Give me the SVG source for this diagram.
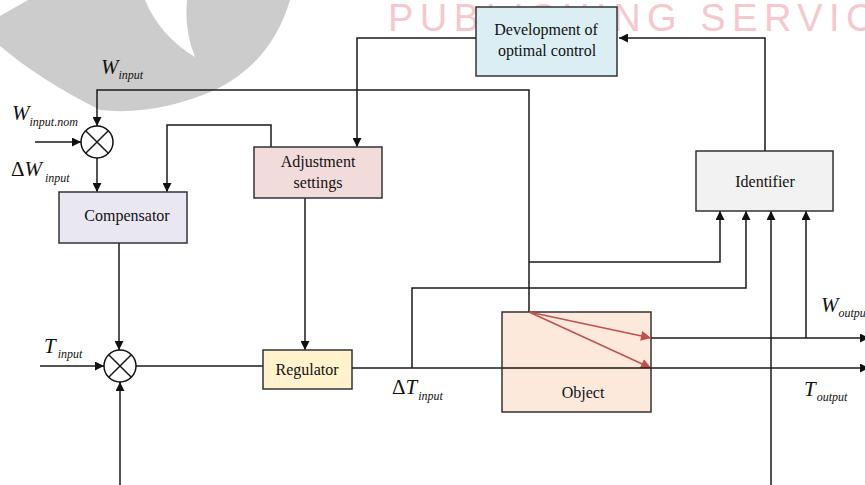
<svg xmlns="http://www.w3.org/2000/svg" width="865" height="485" viewBox="0 0 865 485">
<style>
.ln{fill:none;stroke:#1a1a1a;stroke-width:1.5}
.rd{fill:none;stroke:#c0504d;stroke-width:1.5}
.box{stroke:#333;stroke-width:1.5}
.lbl{font-family:"Liberation Serif","Times New Roman",serif;font-size:16px;fill:#111;text-anchor:middle}
.m{font-family:"Liberation Serif","Times New Roman",serif;font-style:italic;fill:#111}
.big{font-size:21px}
.sub{font-size:12px}
</style>
<defs>
<marker id="ah" viewBox="0 0 10 10" refX="10" refY="5" markerWidth="10" markerHeight="9" markerUnits="userSpaceOnUse" orient="auto"><path d="M0,0 L10,5 L0,10 z" fill="#111"/></marker>
<marker id="ahr" viewBox="0 0 10 10" refX="10" refY="5" markerWidth="14" markerHeight="10" markerUnits="userSpaceOnUse" orient="auto"><path d="M0,0 L10,5 L0,10 z" fill="#c0504d"/></marker>
</defs>
<rect width="865" height="485" fill="#fff"/>
<g id="watermark">
<path d="M28 0 L145 0 Q160 36 195 57 Q184 30 187 0 L290 0 Q272 62 215 90 Q155 116 100 110 Q40 80 0 46 L0 16 Z" fill="#cccccc"/>
<text x="388" y="31" font-family="'Liberation Sans',Arial,sans-serif" font-size="38" letter-spacing="6.5" fill="#f5c8ce">PUBLISHING SERVIC</text>
</g>
<g id="connectors">
<polyline class="ln" points="765,151 765,38 619,38" marker-end="url(#ah)"/>
<polyline class="ln" points="476,38 357,38 357,147" marker-end="url(#ah)"/>
<polyline class="ln" points="271,147 271,125 167,125 167,192" marker-end="url(#ah)"/>
<polyline class="ln" points="529,312 529,90 97,90 97,126" marker-end="url(#ah)"/>
<line class="ln" x1="35" y1="142" x2="81" y2="142" marker-end="url(#ah)"/>
<line class="ln" x1="97" y1="158" x2="97" y2="192" marker-end="url(#ah)"/>
<line class="ln" x1="119" y1="243" x2="119" y2="350" marker-end="url(#ah)"/>
<line class="ln" x1="40" y1="366" x2="104" y2="366" marker-end="url(#ah)"/>
<line class="ln" x1="120" y1="485" x2="120" y2="382" marker-end="url(#ah)"/>
<line class="ln" x1="136" y1="366" x2="263" y2="366"/>
<line class="ln" x1="305" y1="198" x2="305" y2="350" marker-end="url(#ah)"/>
<line class="ln" x1="352" y1="368" x2="869" y2="368" marker-end="url(#ah)"/>
<line class="ln" x1="651" y1="338" x2="869" y2="338" marker-end="url(#ah)"/>
<polyline class="ln" points="529,262 720,262 720,211" marker-end="url(#ah)"/>
<polyline class="ln" points="412,368 412,288 746,288 746,211" marker-end="url(#ah)"/>
<line class="ln" x1="771" y1="485" x2="771" y2="211" marker-end="url(#ah)"/>
<line class="ln" x1="806" y1="338" x2="806" y2="211" marker-end="url(#ah)"/>
</g>
<g id="development">
<rect class="box" x="476" y="7" width="141" height="69" fill="#dbeef4"/>
<text class="lbl" x="546" y="35">Development of</text>
<text class="lbl" x="547" y="56">optimal control</text>
</g>
<g id="adjustment">
<rect class="box" x="254" y="147" width="128" height="51" fill="#f2dcdb"/>
<text class="lbl" x="318" y="167">Adjustment</text>
<text class="lbl" x="318" y="188">settings</text>
</g>
<g id="compensator">
<rect class="box" x="59" y="192" width="128" height="51" fill="#e9e7f1"/>
<text class="lbl" x="127" y="221">Compensator</text>
</g>
<g id="regulator">
<rect class="box" x="263" y="350" width="89" height="39" fill="#fff2cc"/>
<text class="lbl" x="307" y="375">Regulator</text>
</g>
<g id="identifier">
<rect class="box" x="696" y="151" width="137" height="60" fill="#f2f2f2"/>
<text class="lbl" x="765" y="187">Identifier</text>
</g>
<g id="object">
<rect class="box" x="502" y="312" width="149" height="100" fill="#fce9dc"/>
<text class="lbl" x="583" y="398">Object</text>
<line class="rd" x1="529" y1="312" x2="651" y2="338" marker-end="url(#ahr)"/>
<line class="rd" x1="529" y1="312" x2="651" y2="368" marker-end="url(#ahr)"/>
<line class="ln" x1="502" y1="368" x2="651" y2="368"/>
</g>
<g id="sum1">
<circle cx="97" cy="142" r="16" fill="#fff" stroke="#111" stroke-width="1.5"/>
<path class="ln" d="M85.7,130.7 L108.3,153.3 M108.3,130.7 L85.7,153.3"/>
</g>
<g id="sum2">
<circle cx="120" cy="366" r="16" fill="#fff" stroke="#111" stroke-width="1.5"/>
<path class="ln" d="M108.7,354.7 L131.3,377.3 M131.3,354.7 L108.7,377.3"/>
</g>
<g id="labels">
<text class="m" x="101" y="74"><tspan class="big">W</tspan><tspan class="sub" dy="5">input</tspan></text>
<text class="m" x="12" y="120"><tspan class="big">W</tspan><tspan class="sub" dy="6">input.nom</tspan></text>
<text class="m" x="11" y="176"><tspan class="big" font-style="normal">Δ</tspan><tspan class="big">W</tspan><tspan class="sub" dx="3" dy="6">input</tspan></text>
<text class="m" x="44" y="353"><tspan class="big">T</tspan><tspan class="sub" dx="2" dy="5">input</tspan></text>
<text class="m" x="392" y="394"><tspan class="big" font-style="normal">Δ</tspan><tspan class="big">T</tspan><tspan class="sub" dx="1" dy="6">input</tspan></text>
<text class="m" x="821" y="312"><tspan class="big">W</tspan><tspan class="sub" dy="5">output</tspan></text>
<text class="m" x="804" y="396"><tspan class="big">T</tspan><tspan class="sub" dx="1" dy="5">output</tspan></text>
</g>
</svg>
